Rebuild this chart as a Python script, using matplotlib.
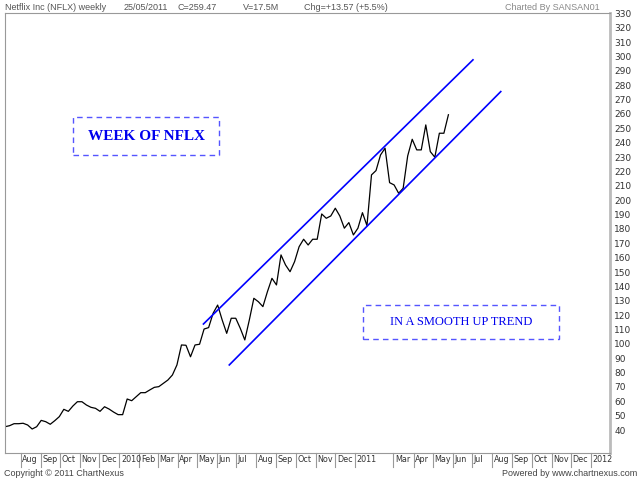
import pandas as pd
import matplotlib
matplotlib.use("Agg")
import matplotlib.pyplot as plt
import matplotlib.dates as mdates
import matplotlib.transforms as mtransforms
from matplotlib.patches import Rectangle

# ==============================
# DATA (weekly closes)
# ==============================

closes = [
    42.3, 43.0, 44.4, 44.4, 44.7, 43.5, 40.7, 42.3, 46.7, 45.8,
    44.0, 46.5, 49.3, 54.4, 53.0, 56.7, 59.7, 59.7, 57.4, 55.8,
    55.1, 53.0, 56.2, 54.6, 52.5, 50.7, 50.7, 61.6, 60.4, 63.2,
    66.0, 66.0, 67.9, 69.7, 70.2, 72.5, 74.8, 78.3, 85.3, 99.2,
    99.0, 91.0, 99.2, 99.7,
    110.3, 111.3, 121.3, 127.0, 116.6, 107.3, 117.8, 117.8, 110.8, 102.7,
    116.6, 131.7, 129.3, 125.9, 136.3, 145.6, 141.0, 161.9, 154.9, 150.2,
    157.2, 167.6, 172.8, 168.8, 172.8, 172.8, 190.4, 187.4, 189.0, 194.4,
    189.0, 180.5, 184.4, 175.8, 180.5, 191.3, 182.3, 217.6, 220.6, 231.5,
    236.2, 212.2, 210.6, 204.8, 208.3, 230.8, 242.4, 235.0, 235.0, 252.4,
    233.8, 229.9, 246.6, 246.6, 259.47,
]
dates = pd.date_range(end="2011-05-25", periods=len(closes), freq="7D")

# channel lines (start / end)
upper_dates = ["2010-05-11", "2011-07-02"]
upper_vals = [113.8, 297.7]
lower_dates = ["2010-06-20", "2011-08-14"]
lower_vals = [85.3, 275.6]

month_starts = [
    "2009-08-01", "2009-09-01", "2009-10-01", "2009-11-01", "2009-12-01",
    "2010-01-01", "2010-02-01", "2010-03-01", "2010-04-01", "2010-05-01",
    "2010-06-01", "2010-07-01", "2010-08-01", "2010-09-01", "2010-10-01",
    "2010-11-01", "2010-12-01", "2011-01-01", "2011-03-01", "2011-04-01",
    "2011-05-01", "2011-06-01", "2011-07-01", "2011-08-01", "2011-09-01",
    "2011-10-01", "2011-11-01", "2011-12-01", "2012-01-01",
]
month_labels = [
    "Aug", "Sep", "Oct", "Nov", "Dec", "2010", "Feb", "Mar", "Apr", "May",
    "Jun", "Jul", "Aug", "Sep", "Oct", "Nov", "Dec", "2011", "Mar", "Apr",
    "May", "Jun", "Jul", "Aug", "Sep", "Oct", "Nov", "Dec", "2012",
]
y_ticks = list(range(40, 331, 10))

# ==============================
# FIGURE
# ==============================

fig = plt.figure(figsize=(6.4, 4.8), dpi=100)
ax = fig.add_axes([5 / 640, 1 - 453 / 480, 605 / 640, 440 / 480])

ax.plot(dates, closes, color="black", lw=0.9)
ax.plot(pd.to_datetime(upper_dates), upper_vals, color="#0000ff", lw=1.2)
ax.plot(pd.to_datetime(lower_dates), lower_vals, color="#0000ff", lw=1.2)

ax.set_xlim(dates[0], pd.Timestamp("2012-01-30"))
ax.set_ylim(24, 330.3)

for side in ["top", "left", "bottom"]:
    ax.spines[side].set_color("#999999")
    ax.spines[side].set_linewidth(0.8)
ax.spines["right"].set_color("#bbbbbb")
ax.spines["right"].set_linewidth(2)

ax.yaxis.tick_right()
ax.set_yticks(y_ticks)
ax.tick_params(axis="y", length=0, pad=3, labelsize=6.5, labelcolor="#333333")
ax.set_xticks([])

# month separators + labels under the axis
trans = mtransforms.blended_transform_factory(ax.transData, ax.transAxes)
for d, lab in zip(mdates.date2num(pd.to_datetime(month_starts)), month_labels):
    ax.plot([d, d], [0, -14 / 440], transform=trans, color="#999999",
            lw=0.8, clip_on=False)
    ax.annotate(lab, xy=(d, 0), xycoords=trans, xytext=(1.5, -7),
                textcoords="offset pixels", ha="left", va="center",
                fontsize=5.8, color="#333333")

# dashed annotation boxes
def note_box(x0, y0, x1, y1, text, weight, size):
    fx0, fx1 = x0 / 640, x1 / 640
    fy0, fy1 = 1 - y1 / 480, 1 - y0 / 480
    fig.patches.append(Rectangle((fx0, fy0), fx1 - fx0, fy1 - fy0,
                                 transform=fig.transFigure, fill=False,
                                 edgecolor="#5555ff", lw=1.0,
                                 linestyle=(0, (4, 3))))
    fig.text((fx0 + fx1) / 2, (fy0 + fy1) / 2, text, ha="center",
             va="center", color="#0000ee", fontsize=size, weight=weight,
             family="Liberation Serif")

note_box(73, 117, 219, 155, "WEEK OF NFLX", "bold", 11)
note_box(363, 305, 559, 339, "IN A SMOOTH UP TREND", "normal", 9)

# header and footer
hdr = dict(fontsize=6.5, color="#555555", va="center", family="Liberation Sans")
fig.text(5 / 640, 1 - 7 / 480, "Netflix Inc (NFLX) weekly", ha="left", **hdr)
fig.text(124 / 640, 1 - 7 / 480, "25/05/2011", ha="left", **hdr)
fig.text(178 / 640, 1 - 7 / 480, "C=259.47", ha="left", **hdr)
fig.text(243 / 640, 1 - 7 / 480, "V=17.5M", ha="left", **hdr)
fig.text(304 / 640, 1 - 7 / 480, "Chg=+13.57 (+5.5%)", ha="left", **hdr)
fig.text(600 / 640, 1 - 7 / 480, "Charted By SANSAN01", ha="right",
         fontsize=6.5, color="#888888", va="center", family="Liberation Sans")

ftr = dict(fontsize=6.5, color="#444444", va="center", family="Liberation Sans")
fig.text(4 / 640, 1 - 474 / 480, "Copyright \u00a9 2011 ChartNexus", ha="left", **ftr)
fig.text(637 / 640, 1 - 474 / 480, "Powered by www.chartnexus.com", ha="right", **ftr)

fig.savefig("out.png", dpi=100)
